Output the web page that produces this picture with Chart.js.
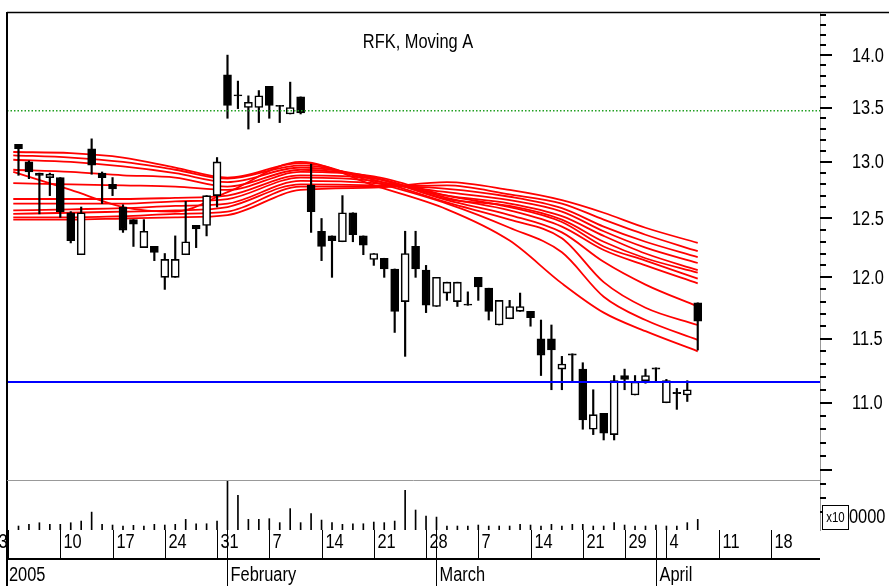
<!DOCTYPE html>
<html>
<head>
<meta charset="utf-8">
<script src="https://cdn.jsdelivr.net/npm/chart.js@4.4.1/dist/chart.umd.min.js"></script>
<style>
  html, body { margin: 0; padding: 0; background: #fff; }
  canvas { display: block; }
</style>
</head>
<body>
<canvas id="chart" width="889" height="586"></canvas>
<script>
// trading days shown (London, 2005)
const dates = [
  '2005-01-04','2005-01-05','2005-01-06','2005-01-07','2005-01-10','2005-01-11','2005-01-12','2005-01-13','2005-01-14',
  '2005-01-17','2005-01-18','2005-01-19','2005-01-20','2005-01-21','2005-01-24','2005-01-25','2005-01-26','2005-01-27',
  '2005-01-28','2005-01-31','2005-02-01','2005-02-02','2005-02-03','2005-02-04','2005-02-07','2005-02-08','2005-02-09',
  '2005-02-10','2005-02-11','2005-02-14','2005-02-15','2005-02-16','2005-02-17','2005-02-18','2005-02-21','2005-02-22',
  '2005-02-23','2005-02-24','2005-02-25','2005-02-28','2005-03-01','2005-03-02','2005-03-03','2005-03-04','2005-03-07',
  '2005-03-08','2005-03-09','2005-03-10','2005-03-11','2005-03-14','2005-03-15','2005-03-16','2005-03-17','2005-03-18',
  '2005-03-21','2005-03-22','2005-03-23','2005-03-24','2005-03-29','2005-03-30','2005-03-31','2005-04-01','2005-04-04',
  '2005-04-05','2005-04-06','2005-04-07'
];

const open = [
  13.16, 13.00, 12.90, 12.86, 12.86, 12.55, 12.19, 13.12, 12.90, 12.80,
  12.60, 12.49, 12.25, 12.26, 12.00, 12.00, 12.19, 12.44, 12.44, 12.70,
  13.81, 13.62, 13.50, 13.50, 13.70, 13.52, 13.44, 13.60, 12.79, 12.39,
  12.35, 12.30, 12.55, 12.35, 12.15, 12.16, 12.07, 11.80, 12.26, 12.06,
  11.76, 11.87, 11.80, 11.78, 12.00, 11.91, 11.61, 11.66, 11.72, 11.72,
  11.50, 11.50, 11.26, 11.38, 11.26, 10.80, 10.92, 10.76, 11.21, 11.06,
  11.17, 11.27, 11.00, 11.08, 11.06, 11.79
];
const high = [
  13.16, 13.01, 12.90, 12.90, 12.86, 12.56, 12.60, 13.21, 12.91, 12.86,
  12.62, 12.49, 12.49, 12.26, 12.20, 12.35, 12.65, 12.44, 12.70, 13.04,
  14.00, 13.75, 13.61, 13.66, 13.70, 13.52, 13.74, 13.60, 12.98, 12.50,
  12.35, 12.70, 12.55, 12.35, 12.20, 12.16, 12.07, 12.39, 12.39, 12.10,
  12.00, 11.96, 11.96, 11.88, 12.00, 11.91, 11.81, 11.81, 11.87, 11.72,
  11.65, 11.61, 11.36, 11.38, 11.31, 11.10, 10.92, 11.21, 11.26, 11.21,
  11.26, 11.27, 11.18, 11.11, 11.17, 11.79
];
const low = [
  12.88, 12.85, 12.54, 12.70, 12.51, 12.29, 12.19, 12.89, 12.63, 12.70,
  12.38, 12.26, 12.25, 12.14, 11.90, 12.00, 12.19, 12.25, 12.35, 12.60,
  13.40, 13.49, 13.30, 13.36, 13.40, 13.36, 13.44, 13.44, 12.38, 12.14,
  12.00, 12.30, 12.30, 12.19, 12.10, 12.00, 11.55, 11.36, 12.00, 11.71,
  11.76, 11.81, 11.76, 11.77, 11.81, 11.65, 11.61, 11.66, 11.72, 11.60,
  11.21, 11.10, 11.10, 11.17, 10.80, 10.76, 10.72, 10.72, 11.10, 11.06,
  11.15, 11.17, 11.00, 10.95, 11.01, 11.41
];
const close = [
  13.12, 12.91, 12.88, 12.89, 12.56, 12.31, 12.55, 12.97, 12.86, 12.76,
  12.40, 12.45, 12.39, 12.21, 12.15, 12.15, 12.30, 12.41, 12.70, 13.00,
  13.52, 13.61, 13.55, 13.61, 13.52, 13.51, 13.50, 13.45, 12.56, 12.26,
  12.31, 12.55, 12.36, 12.27, 12.20, 12.07, 11.72, 12.20, 12.07, 11.77,
  12.00, 11.96, 11.96, 11.77, 11.92, 11.72, 11.81, 11.76, 11.76, 11.67,
  11.37, 11.41, 11.30, 11.37, 10.87, 10.91, 10.77, 11.17, 11.18, 11.16,
  11.21, 11.26, 11.17, 11.07, 11.10, 11.64
];
// volume, x100000
const volume = [
  0.40, 0.57, 0.73, 0.57, 0.57, 0.73, 0.90, 1.80, 0.57, 0.50,
  0.40, 0.47, 0.40, 0.57, 0.50, 0.57, 1.07, 0.63, 0.63, 0.90,
  4.98, 3.49, 1.07, 1.07, 1.14, 0.74, 2.15, 0.74, 1.64, 1.00,
  0.74, 0.57, 0.63, 0.63, 0.80, 0.74, 0.90, 3.99, 2.01, 1.40,
  1.30, 0.40, 0.40, 0.40, 0.50, 0.40, 0.40, 0.40, 0.57, 0.50,
  0.40, 0.57, 0.40, 0.57, 0.57, 0.40, 0.40, 0.74, 0.50, 0.40,
  0.40, 0.50, 0.40, 0.40, 0.74, 1.07
];

// moving averages (short group S1-S6, long group L1-L6), read at these day positions
const maIdx = [-0.5, 5, 10, 15, 20, 27, 34, 41, 47, 52, 56, 60, 65];
const maS1 = [12.91, 12.75, 12.60, 12.56, 12.73, 13.00, 12.79, 12.58, 12.31, 11.95, 11.71, 11.56, 11.40];
const maS2 = [13.09, 13.08, 13.04, 12.95, 12.86, 12.99, 12.82, 12.63, 12.42, 12.21, 11.84, 11.65, 11.49];
const maS3 = [13.06, 13.04, 13.00, 12.93, 12.85, 12.97, 12.84, 12.64, 12.49, 12.33, 11.96, 11.75, 11.61];
const maS4 = [13.02, 13.00, 12.96, 12.90, 12.82, 12.95, 12.86, 12.66, 12.53, 12.38, 12.13, 11.94, 11.76];
const maS5 = [12.93, 12.91, 12.88, 12.86, 12.78, 12.93, 12.86, 12.68, 12.57, 12.43, 12.23, 12.10, 11.95];
const maS6 = [12.81, 12.80, 12.79, 12.78, 12.75, 12.91, 12.87, 12.70, 12.60, 12.47, 12.26, 12.14, 11.99];
const maL1 = [12.67, 12.67, 12.67, 12.68, 12.70, 12.88, 12.85, 12.67, 12.61, 12.49, 12.30, 12.16, 12.04];
const maL2 = [12.63, 12.63, 12.63, 12.65, 12.67, 12.86, 12.83, 12.70, 12.63, 12.52, 12.35, 12.20, 12.06];
const maL3 = [12.57, 12.58, 12.59, 12.61, 12.63, 12.83, 12.81, 12.73, 12.66, 12.56, 12.39, 12.25, 12.12];
const maL4 = [12.54, 12.55, 12.56, 12.57, 12.60, 12.80, 12.79, 12.76, 12.69, 12.59, 12.43, 12.30, 12.17];
const maL5 = [12.51, 12.51, 12.52, 12.54, 12.56, 12.78, 12.78, 12.79, 12.71, 12.63, 12.49, 12.36, 12.22];
const maL6 = [12.49, 12.49, 12.50, 12.51, 12.53, 12.75, 12.77, 12.82, 12.75, 12.66, 12.55, 12.42, 12.29];

const greenLevel = 13.47;
const blueLevel = 11.16;

const priceTicks = [11.0, 11.5, 12.0, 12.5, 13.0, 13.5, 14.0];
const weekTickIdx = [-1, 4, 9, 14, 19, 24, 29, 34, 39, 44, 49, 54, 58, 62, 67, 72];
const weekLabels = ['3', '10', '17', '24', '31', '7', '14', '21', '28', '7', '14', '21', '29', '4', '11', '18'];
const monthStartIdx = [20, 40, 61];
const monthLabels = ['February', 'March', 'April'];
const yearLabel = '2005';
const title = 'RFK, Moving A';

const FONT = "'Liberation Sans', Arial, sans-serif";
const X_MIN = -1.1, X_MAX = 76.7;

const idx = dates.map((d, i) => i);

// Arial Narrow look: regular face squeezed horizontally
function narrowText(ctx, text, x, y, align, size) {
    ctx.save();
    ctx.font = size + 'px ' + FONT;
    ctx.textAlign = align;
    ctx.textBaseline = 'middle';
    ctx.fillStyle = '#000';
    ctx.translate(x, y);
    ctx.scale(0.82, 1);
    ctx.fillText(text, 0, 0);
    ctx.restore();
}

const maSets = [maS1, maS2, maS3, maS4, maS5, maS6, maL1, maL2, maL3, maL4, maL5, maL6].map(vals => ({
    type: 'line',
    data: maIdx.map((xv, j) => ({ x: xv, y: vals[j] })),
    borderColor: '#ff0000',
    borderWidth: 1.8,
    pointRadius: 0,
    cubicInterpolationMode: 'monotone',
    yAxisID: 'y',
    order: 5
}));

const frame = {
    id: 'frame',
    afterDraw(chart) {
        const { ctx, chartArea: a, scales: { x, y, vol } } = chart;
        ctx.save();
        ctx.strokeStyle = '#000';

        narrowText(ctx, title, 418, 42, 'center', 20);

        // top and left border
        ctx.lineWidth = 1.5;
        ctx.beginPath();
        ctx.moveTo(a.left, 12.5); ctx.lineTo(889, 12.5);
        ctx.stroke();
        ctx.lineWidth = 2;
        ctx.beginPath();
        ctx.moveTo(a.left, 12); ctx.lineTo(a.left, 586);
        ctx.stroke();

        // volume panel divider
        const vy = Math.round(vol.getPixelForValue(5)) + 0.5;
        ctx.strokeStyle = '#999';
        ctx.lineWidth = 1;
        ctx.beginPath();
        ctx.moveTo(a.left, vy); ctx.lineTo(a.right, vy);
        ctx.stroke();

        // price axis tick marks and labels
        ctx.strokeStyle = '#000';
        ctx.lineWidth = 2;
        for (let k = 102; k <= 144; k++) {
            const py = Math.round(y.getPixelForValue(k / 10));
            const len = k % 5 === 0 ? 12 : 6;
            ctx.beginPath();
            ctx.moveTo(a.right, py); ctx.lineTo(a.right + len, py);
            ctx.stroke();
        }
        priceTicks.forEach(v => {
            narrowText(ctx, v.toFixed(1), a.right + 32, y.getPixelForValue(v) + 1, 'left', 20);
        });

        // multiplier box
        ctx.fillStyle = '#fff';
        ctx.fillRect(822, 505, 27, 25);
        ctx.lineWidth = 1;
        ctx.strokeRect(822.5, 505.5, 26, 24);
        narrowText(ctx, 'x10', 835.5, 518, 'center', 14);
        narrowText(ctx, '0000', 849, 517, 'left', 20);

        // date axis
        const rowY = 559;
        ctx.lineWidth = 2;
        ctx.beginPath();
        ctx.moveTo(a.left, rowY); ctx.lineTo(a.right, rowY);
        ctx.stroke();

        ctx.lineWidth = 1;
        weekTickIdx.forEach((d, i) => {
            const px = Math.round(x.getPixelForValue(d)) + 0.5;
            if (px > a.right) return;
            ctx.beginPath();
            ctx.moveTo(px, a.bottom); ctx.lineTo(px, rowY);
            ctx.stroke();
            if (i === 0) {
                narrowText(ctx, weekLabels[i], px - 1, 542, 'right', 20);
            } else {
                narrowText(ctx, weekLabels[i], px + 3, 542, 'left', 20);
            }
        });

        narrowText(ctx, yearLabel, a.left + 2, 575, 'left', 20);
        monthStartIdx.forEach((d, i) => {
            const px = Math.round(x.getPixelForValue(d)) + 0.5;
            ctx.beginPath();
            ctx.moveTo(px, a.bottom); ctx.lineTo(px, 586);
            ctx.stroke();
            narrowText(ctx, monthLabels[i], px + 3, 575, 'left', 20);
        });

        ctx.restore();
    }
};

new Chart(document.getElementById('chart'), {
    type: 'bar',
    data: {
        datasets: [
            {
                type: 'line',
                data: [{ x: X_MIN, y: greenLevel }, { x: X_MAX, y: greenLevel }],
                borderColor: '#22a022',
                borderWidth: 1.5,
                borderDash: [1.5, 2],
                pointRadius: 0,
                yAxisID: 'y',
                order: 0
            },
            {
                type: 'line',
                data: [{ x: X_MIN, y: blueLevel }, { x: X_MAX, y: blueLevel }],
                borderColor: '#0000ff',
                borderWidth: 2,
                pointRadius: 0,
                yAxisID: 'y',
                order: 0
            },
            {
                data: idx.map(i => ({ x: i, y: [open[i], close[i]] })),
                backgroundColor: idx.map(i => close[i] >= open[i] ? '#ffffff' : '#000000'),
                borderColor: '#000',
                borderWidth: 1.6,
                borderSkipped: false,
                barThickness: 8,
                grouped: false,
                yAxisID: 'y',
                order: 1
            },
            {
                data: idx.map(i => ({ x: i, y: [low[i], high[i]] })),
                backgroundColor: '#000',
                barThickness: 1.5,
                grouped: false,
                yAxisID: 'y',
                order: 2
            },
            {
                data: idx.map(i => ({ x: i, y: volume[i] })),
                backgroundColor: '#000',
                barThickness: 1,
                grouped: false,
                yAxisID: 'vol',
                order: 2
            },
            ...maSets
        ]
    },
    options: {
        responsive: false,
        animation: false,
        devicePixelRatio: 1,
        layout: { padding: { left: 7, right: 0, top: 12, bottom: 56 } },
        plugins: {
            legend: { display: false },
            tooltip: { enabled: false }
        },
        scales: {
            x: { type: 'linear', min: X_MIN, max: X_MAX, offset: false, display: false },
            y: {
                type: 'logarithmic',
                position: 'right',
                min: 10.071,
                max: 14.425,
                afterBuildTicks: s => { s.ticks = priceTicks.map(v => ({ value: v })); },
                afterFit: s => { s.width = 69; },
                ticks: { display: false, padding: 0 },
                grid: { drawOnChartArea: false, drawTicks: false },
                border: { color: '#999', width: 1 }
            },
            vol: { type: 'linear', min: 0, max: 52.1, display: false }
        }
    },
    plugins: [frame]
});
</script>
</body>
</html>
